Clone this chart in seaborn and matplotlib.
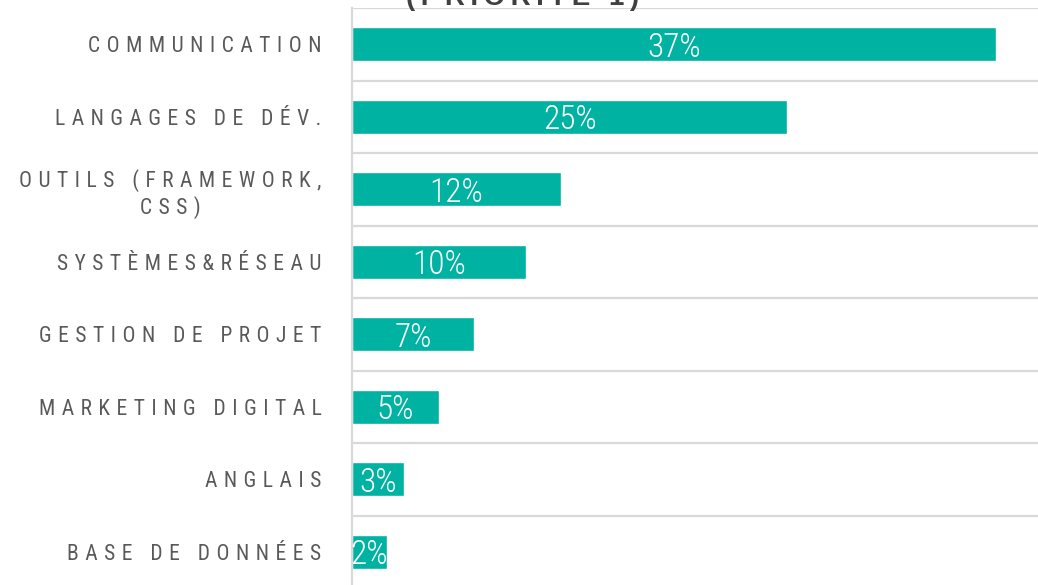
import matplotlib
matplotlib.use("Agg")
import matplotlib.pyplot as plt
import matplotlib.font_manager as fm
import seaborn as sns

# données
categories = [
    "COMMUNICATION",
    "LANGAGES DE DÉV.",
    "OUTILS (FRAMEWORK,\nCSS)",
    "SYSTÈMES&RÉSEAU",
    "GESTION DE PROJET",
    "MARKETING DIGITAL",
    "ANGLAIS",
    "BASE DE DONNÉES",
]
values = [37, 25, 12, 10, 7, 5, 3, 2]
value_labels = [f"{v}%" for v in values]
title = "(PRIORITÉ 1)"

BAR_COLOR = "#00B2A1"
GRID_COLOR = "#D9D9D9"
TEXT_COLOR = "#595959"

installed = {f.name for f in fm.fontManager.ttflist}
narrow = next((n for n in ["Liberation Sans Narrow", "Roboto Condensed",
                           "Open Sans Condensed"] if n in installed),
              "Liberation Sans")
FONT = ["Liberation Sans", "DejaVu Sans"]
NUM_FONT = [narrow, "DejaVu Sans"]

SP = "\u2004"  # espacement des lettres (pas de letter-spacing dans matplotlib)


def track(s, sp=SP):
    return "\n".join(sp.join(line) for line in s.split("\n"))


sns.set_style("white")
plt.rcParams["font.family"] = FONT

fig = plt.figure(figsize=(10.38, 5.85), dpi=100)
ax = fig.add_axes([352 / 1038, -3 / 585, 1 - 352 / 1038, 580 / 585])

sns.barplot(x=values, y=categories, orient="h", color=BAR_COLOR,
            width=0.47, saturation=1, ax=ax)

ax.set_xlim(0, 39.4)
ax.set_ylim(7.5, -0.5)
ax.set_xticks([])
ax.set_xlabel("")
ax.set_ylabel("")

# lignes de séparation entre catégories
ax.set_yticks([i - 0.5 for i in range(len(categories) + 1)], minor=True)
ax.grid(True, axis="y", which="minor", color=GRID_COLOR, linewidth=1.6)
ax.tick_params(axis="y", which="both", length=0, pad=22)
ax.set_yticks(range(len(categories)))
ax.set_yticklabels([track(c) for c in categories], fontsize=15.5,
                   family=NUM_FONT, color=TEXT_COLOR,
                   multialignment="center", linespacing=1.25)

for side in ["top", "right", "bottom"]:
    ax.spines[side].set_visible(False)
ax.spines["left"].set_color(GRID_COLOR)
ax.spines["left"].set_linewidth(1.6)

# étiquettes de valeurs, coupées à la barre comme dans l'original
bars = ax.containers[0]
num_size = 24 if narrow != "Liberation Sans" else 20
texts = ax.bar_label(bars, labels=value_labels, label_type="center",
                     color="white", fontsize=num_size, family=NUM_FONT,
                     fontweight="light")
for t, patch in zip(texts, bars.patches):
    t.set_va("center_baseline")
    t.set_clip_on(True)
    t.set_clip_path(patch)

fig.text(523 / 1038, 1 - 5 / 585, track(title, "\u2009"), ha="center",
         va="baseline", fontsize=20, fontweight="bold", color="#404040")

plt.savefig("out.png", dpi=100)
